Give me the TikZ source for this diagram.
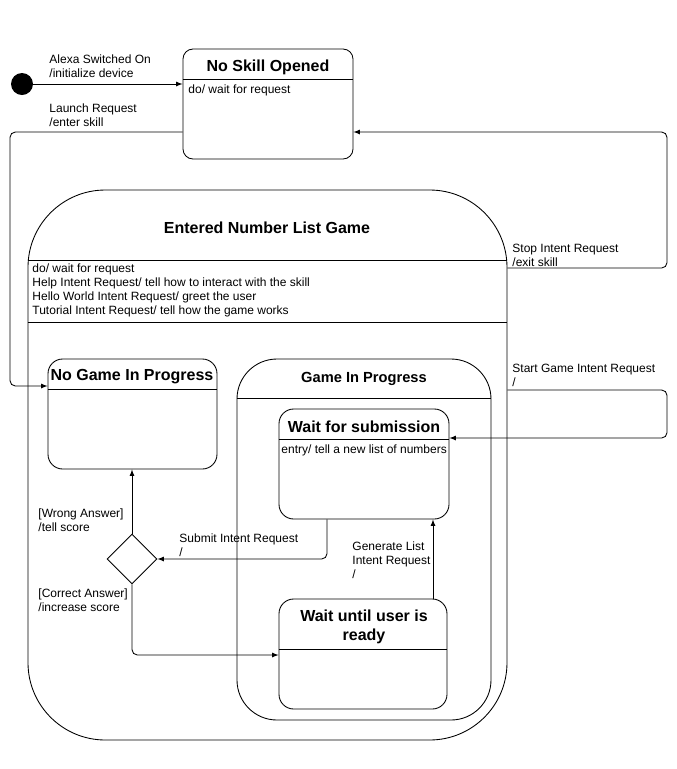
\documentclass[tikz,border=0pt]{standalone}
\usepackage{fontspec}
\setmainfont{Liberation Sans}
\usetikzlibrary{shapes.geometric, arrows, positioning, fit}

\tikzset{
  statebox/.style={draw, rounded corners=7.5pt, inner sep=0pt},
  statetitle/.style={font=\fontsize{12}{14}\selectfont\bfseries, align=center},
  small/.style={font=\fontsize{9}{10.5}\selectfont, align=left, inner sep=0pt},
  trans/.style={->, >=latex, rounded corners=4pt}
}

\begin{document}
\begin{tikzpicture}[x=0.75pt, y=-0.75pt, line width=0.65pt]
    \useasboundingbox (0,0) rectangle (677,769);

    % initial state
    \node[circle, fill=black, minimum size=16.5pt, inner sep=0pt] (init) at (22,84) {};

    % no skill opened
    \node[statebox, fit={(183,49) (353,159)}] (noskill) {};
    \draw (noskill.west |- 0,79) -- (noskill.east |- 0,79);
    \node[statetitle] (noskilltitle) at (268,67) {No Skill Opened};
    \node[small, anchor=north west] (noskilldo) at (188,84) {do/ wait for request};

    % entered number list game
    \node[draw, rounded corners=58pt, inner sep=0pt, fit={(28,190) (507,740)}] (game) {};
    \draw (game.west |- 0,260) -- (game.east |- 0,260);
    \draw (game.west |- 0,322) -- (game.east |- 0,322);
    \node[statetitle] (gametitle) at (267,228) {Entered Number List Game};
    \node[small, anchor=north west] (gamedo) at (32,263) {do/ wait for request\\
        Help Intent Request/ tell how to interact with the skill\\
        Hello World Intent Request/ greet the user\\
        Tutorial Intent Request/ tell how the game works};

    % no game in progress
    \node[statebox, rounded corners=11pt, fit={(48,359) (217,469)}] (nogame) {};
    \draw (nogame.west |- 0,389) -- (nogame.east |- 0,389);
    \node[statetitle] (nogametitle) at (132,377) {No Game In Progress};

    % game in progress
    \node[draw, rounded corners=30pt, inner sep=0pt, fit={(237,359) (491,720)}] (progress) {};
    \draw (progress.west |- 0,398) -- (progress.east |- 0,398);
    \node[statetitle, font=\fontsize{11}{13}\selectfont\bfseries] (progresstitle) at (364,379) {Game In Progress};

    % wait for submission
    \node[statebox, rounded corners=11pt, fit={(279,409) (449,519)}] (submission) {};
    \draw (submission.west |- 0,439) -- (submission.east |- 0,439);
    \node[statetitle] (submissiontitle) at (364,427) {Wait for submission};
    \node[small, anchor=north west] (submissionentry) at (281,444) {entry/ tell a new list of numbers};

    % wait until user is ready
    \node[statebox, rounded corners=11pt, fit={(279,599) (447,709)}] (ready) {};
    \draw (ready.west |- 0,649) -- (ready.east |- 0,649);
    \node[statetitle] (readytitle) at (364,627) {Wait until user is\\ready};

    % choice
    \node[draw, diamond, minimum size=37.5pt, inner sep=0pt] (choice) at (132,559) {};

    % transitions
    \draw[trans] (init) -- (noskill.west |- init);
    \node[small, anchor=south west] (lbswitch) at (49,78) {Alexa Switched On\\/initialize device};

    \draw[trans] (noskill.west |- 0,132) -- (10,132) -- (10,386) -- (nogame.west |- 0,386);
    \node[small, anchor=south west] (lblaunch) at (49,127) {Launch Request\\/enter skill};

    \draw[trans] (game.east |- 0,268) -- (667,268) -- (667,132) -- (noskill.east |- 0,132);
    \node[small, anchor=south west] (lbstop) at (512,267) {Stop Intent Request\\/exit skill};

    \draw[trans] (game.east |- 0,390) -- (667,390) -- (667,438) -- (submission.east |- 0,438);
    \node[small, anchor=south west] (lbstart) at (512,387) {Start Game Intent Request\\/};

    \draw[trans] (submission.south -| 327,0) -- (327,559) -- (choice.east);
    \node[small, anchor=south west] (lbsubmit) at (179,557) {Submit Intent Request\\/};

    \draw[trans] (choice.north) -- (nogame.south -| choice);
    \node[small, anchor=south west] (lbwrong) at (38,532) {[Wrong Answer]\\/tell score};

    \draw[trans] (choice.south) -- (132,655) -- (ready.west |- 0,655);
    \node[small, anchor=south west] (lbcorrect) at (38,612) {[Correct Answer]\\/increase score};

    \draw[trans] (ready.north -| 433,0) -- (submission.south -| 433,0);
    \node[small, anchor=south west] (lbgenerate) at (352,579) {Generate List\\Intent Request\\/};
\end{tikzpicture}
\end{document}
